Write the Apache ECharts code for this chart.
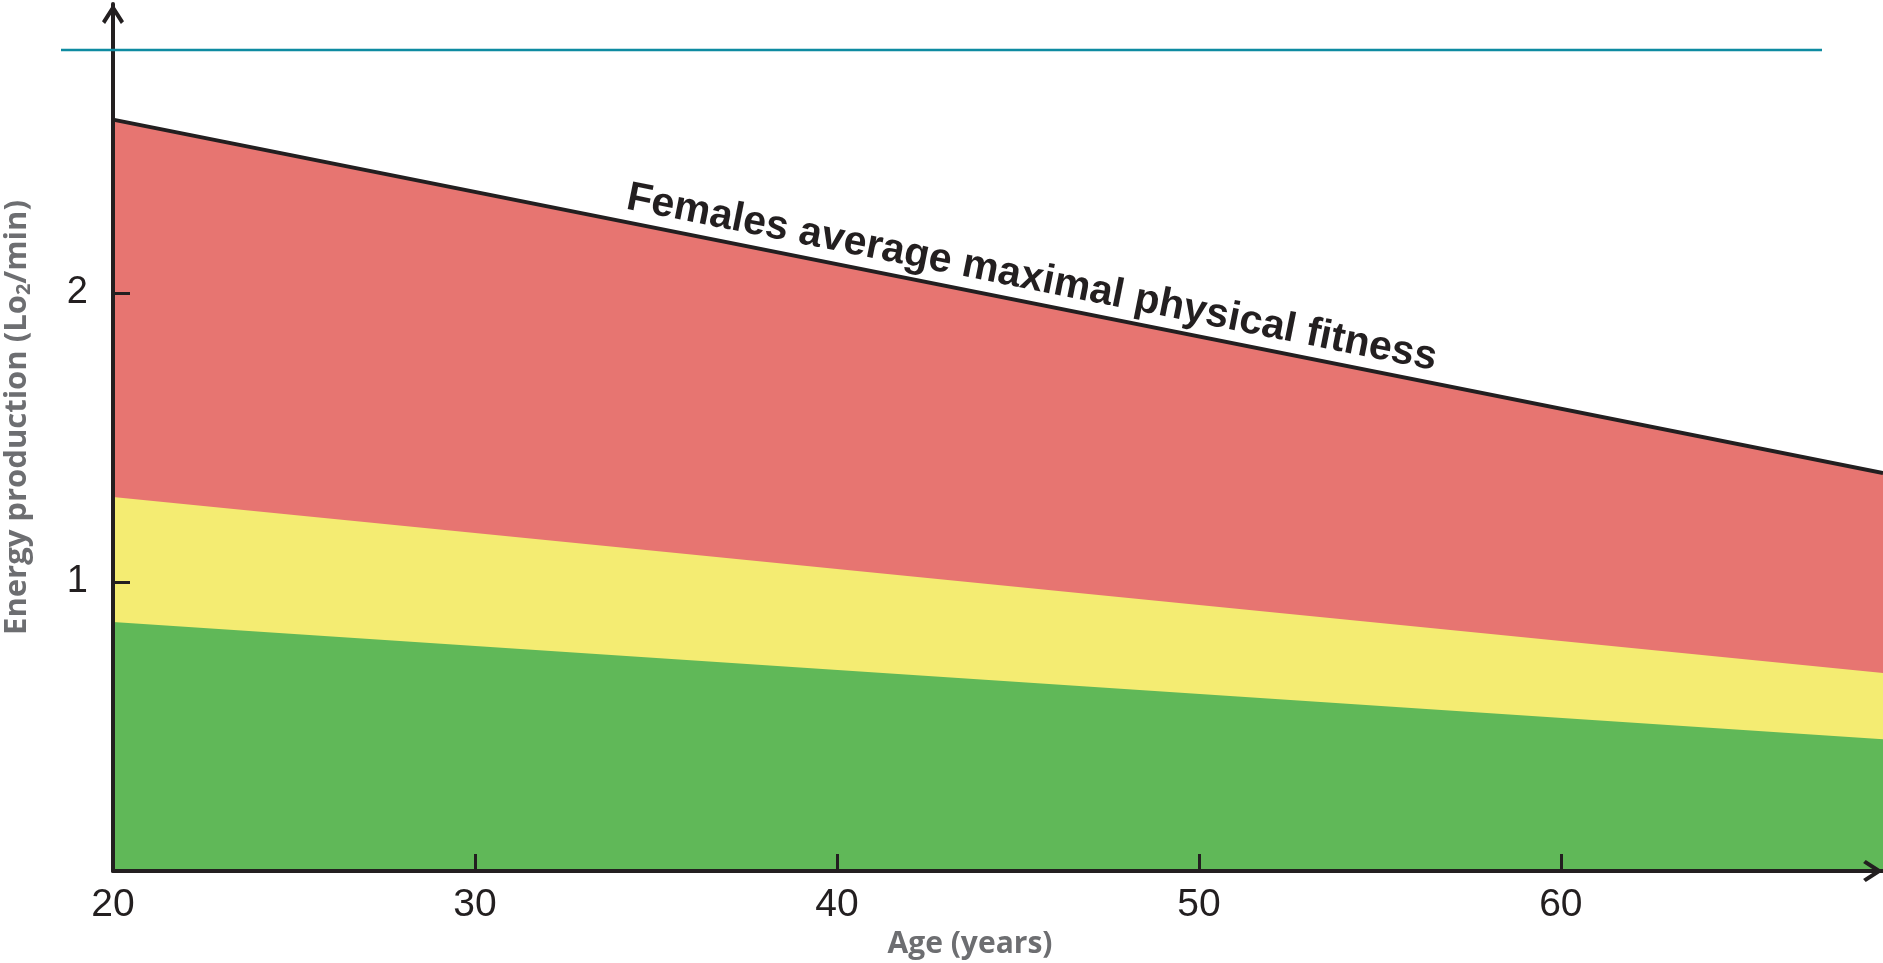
<!DOCTYPE html>
<html>
<head>
<meta charset="utf-8">
<title>Energy production by age</title>
<script src="https://cdn.jsdelivr.net/npm/echarts@6/dist/echarts.min.js"></script>
<style>
  html, body { margin: 0; padding: 0; background: #fff; }
  #chart { width: 1883px; height: 963px; }
</style>
</head>
<body>
<div id="chart"></div>
<script>
const ages = [20, 68.9]
const maxFitness = [2.6, 1.377]
const yellowTop = [1.294, 0.685]
const greenTop = [0.862, 0.456]

const xLabelValues = [20, 30, 40, 50, 60]
const xTickValues = [30, 40, 50, 60]
const yLabelValues = [1, 2]

const lineLabel = 'Females average maximal physical fitness'

const ink = '#231f20'
const nameGray = '#6d6e71'
const chevron = 'path://M50,0 L100,78 L86,90 L50,34 L14,90 L0,78 Z'

const toPoints = vals => ages.map((a, i) => [a, vals[i]])

const chart = echarts.init(document.getElementById('chart'))

chart.setOption({
  animation: false,
  grid: {
    left: 113,
    right: 0,
    top: 4,
    bottom: 92,
    outerBoundsMode: 'none'
  },
  xAxis: {
    type: 'value',
    min: 20,
    max: 68.9,
    z: 5,
    name: 'Age (years)',
    nameLocation: 'middle',
    nameGap: 54,
    nameTextStyle: {
      fontFamily: 'Open Sans',
      fontWeight: 'bold',
      fontSize: 30,
      color: nameGray,
      padding: [0, 56, 0, 0]
    },
    axisLine: {
      lineStyle: { color: ink, width: 4 },
      symbol: ['none', chevron],
      symbolSize: [22, 20],
      symbolOffset: [0, -10]
    },
    axisTick: {
      inside: true,
      length: 17,
      customValues: xTickValues,
      lineStyle: { color: ink, width: 3 }
    },
    axisLabel: {
      customValues: xLabelValues,
      margin: 15,
      fontFamily: 'Liberation Sans',
      fontSize: 39,
      color: ink
    },
    splitLine: { show: false }
  },
  yAxis: {
    type: 'value',
    min: 0,
    max: 3,
    z: 5,
    name: 'Energy production (Lo{sub|2}/min)',
    nameLocation: 'middle',
    nameGap: 79,
    nameTextStyle: {
      fontFamily: 'Open Sans',
      fontWeight: 'bold',
      fontSize: 31,
      lineHeight: 34,
      color: nameGray,
      padding: [0, 0, 0, 40],
      rich: {
        sub: {
          fontFamily: 'Open Sans',
          fontWeight: 'bold',
          fontSize: 20,
          lineHeight: 12,
          verticalAlign: 'bottom',
          color: nameGray
        }
      }
    },
    axisLine: {
      lineStyle: { color: ink, width: 4 },
      symbol: ['none', chevron],
      symbolSize: [22, 20],
      symbolOffset: [0, -10]
    },
    axisTick: {
      inside: true,
      length: 17,
      customValues: yLabelValues,
      lineStyle: { color: ink, width: 3 }
    },
    axisLabel: {
      customValues: yLabelValues,
      margin: 25,
      fontFamily: 'Liberation Sans',
      fontSize: 38,
      color: ink
    },
    splitLine: { show: false }
  },
  series: [
    {
      name: 'Maximal fitness',
      type: 'line',
      data: toPoints(maxFitness),
      showSymbol: false,
      lineStyle: { color: ink, width: 4 },
      areaStyle: { color: '#e77571', opacity: 1 }
    },
    {
      name: 'Moderate',
      type: 'line',
      data: toPoints(yellowTop),
      showSymbol: false,
      lineStyle: { width: 0 },
      areaStyle: { color: '#f4ec72', opacity: 1 }
    },
    {
      name: 'Light',
      type: 'line',
      data: toPoints(greenTop),
      showSymbol: false,
      lineStyle: { width: 0 },
      areaStyle: { color: '#60b858', opacity: 1 }
    }
  ]
})

// label sits along the top line, so place it from the chart's own scale
const labelAge = 45.25
const slope = (maxFitness[1] - maxFitness[0]) / (ages[1] - ages[0])
const labelVal = maxFitness[0] + slope * (labelAge - ages[0])
const p = chart.convertToPixel({ gridIndex: 0 }, [labelAge, labelVal])
const p0 = chart.convertToPixel({ gridIndex: 0 }, [ages[0], maxFitness[0]])
const p1 = chart.convertToPixel({ gridIndex: 0 }, [ages[1], maxFitness[1]])
const angle = Math.atan2(p0[1] - p1[1], p1[0] - p0[0])

chart.setOption({
  graphic: [
    {
      type: 'line',
      shape: { x1: 61, y1: 50, x2: 1822, y2: 50 },
      style: { stroke: '#0e8ba1', lineWidth: 2.5 },
      z: 10
    },
    {
      type: 'text',
      x: p[0],
      y: p[1],
      rotation: angle,
      z: 10,
      style: {
        text: lineLabel,
        x: 0,
        y: -4,
        font: 'bold 41px "Liberation Sans"',
        fill: ink,
        align: 'center',
        verticalAlign: 'bottom',
        textAlign: 'center',
        textVerticalAlign: 'bottom'
      }
    }
  ]
})
</script>
</body>
</html>
